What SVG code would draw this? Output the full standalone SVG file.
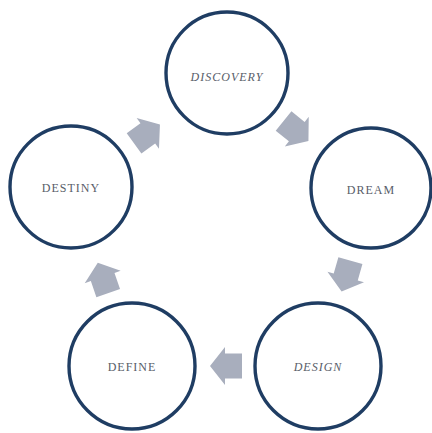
<svg xmlns="http://www.w3.org/2000/svg" width="432" height="433" viewBox="0 0 432 433">
<style>
.node circle{fill:#fff;stroke:#1f3d63;stroke-width:3.4}
.node text{font-family:"Liberation Serif","Times New Roman",serif;font-size:12px;fill:#585d69;text-anchor:middle;letter-spacing:1px}
.it{font-style:italic}
.arr{fill:#a8aebd}
</style>
<defs>
<polygon id="ba" points="-16,-12.5 1,-12.5 1,-19 16,0 1,19 1,12.5 -16,12.5"/>
</defs>
<rect width="432" height="433" fill="#fff"/>
<g id="connectors" class="arr">
<use href="#ba" transform="translate(147,134) rotate(-36)"/>
<use href="#ba" transform="translate(296,131) rotate(39)"/>
<use href="#ba" transform="translate(346,276) rotate(106)"/>
<use href="#ba" transform="translate(226,366) rotate(180)"/>
<use href="#ba" transform="translate(103,278) rotate(-109)"/>
</g>
<g id="discovery" class="node"><circle cx="227" cy="73" r="61"/><text class="it" x="227" y="81">DISCOVERY</text></g>
<g id="dream" class="node"><circle cx="371" cy="188" r="60"/><text x="371" y="194">DREAM</text></g>
<g id="design" class="node"><circle cx="318" cy="366" r="63"/><text class="it" x="318" y="371">DESIGN</text></g>
<g id="define" class="node"><circle cx="132" cy="366" r="63"/><text x="132" y="371">DEFINE</text></g>
<g id="destiny" class="node"><circle cx="71" cy="187" r="61"/><text x="71" y="192">DESTINY</text></g>
</svg>
